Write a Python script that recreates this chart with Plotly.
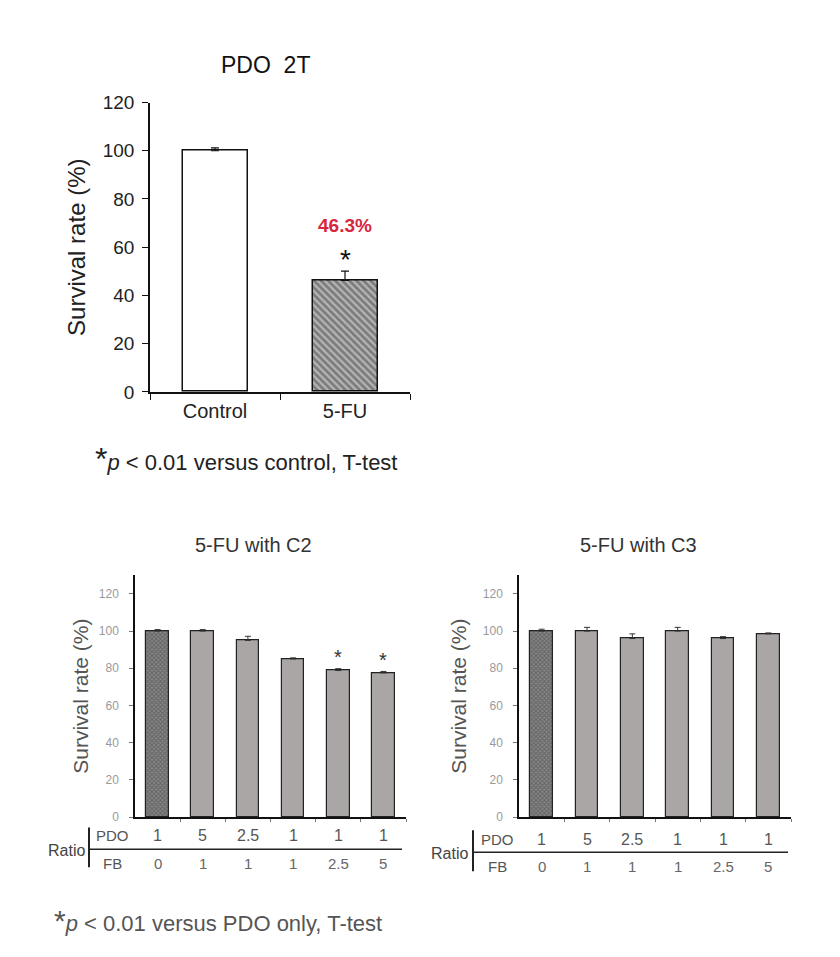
import plotly.graph_objects as go

# ---------------- data ----------------
top_categories = ["Control", "5-FU"]
top_values = [100, 46.3]
top_errors = [1.2, 3.8]
top_label = "46.3%"

c2_values = [100, 100, 95, 85, 78.8, 77.5]
c2_errors = [0.8, 0.8, 2.2, 0.6, 1.0, 0.8]
c2_signif = [False, False, False, False, True, True]

c3_values = [100, 100, 96, 100, 96, 98.5]
c3_errors = [1.0, 2.0, 2.5, 2.0, 1.0, 0.5]

pdo_ratio = ["1", "5", "2.5", "1", "1", "1"]
fb_ratio = ["0", "1", "1", "1", "2.5", "5"]

W, H = 840, 957
FONT = "Liberation Sans, Arial, sans-serif"
GREY_BAR = "#aaa6a6"


def px(x):
    return x / W


def py(y):
    # compensate the slight vertical compression observed in the photographed page
    y2 = (y - 9.0) / 0.98
    return 1 - y2 / H


fig = go.Figure()

# ---------------- top chart ----------------
fig.add_trace(go.Bar(
    x=top_categories, y=top_values, width=0.5,
    marker=dict(color=["#ffffff", "#b5b5b5"],
                line=dict(color="#111", width=1.5),
                pattern=dict(shape=["", "\\"], fgcolor="#111", size=5, solidity=0.55)),
    error_y=dict(type="data", array=top_errors, arrayminus=[0, 0], symmetric=False,
                 color="#111", thickness=1.2, width=4),
    xaxis="x", yaxis="y", showlegend=False,
))

idx = list(range(len(c2_values)))
pattern_shapes = ["x"] + [""] * (len(c2_values) - 1)
bar_colors = ["#8a8a8a"] + [GREY_BAR] * (len(c2_values) - 1)

for vals, errs, xa, ya in [(c2_values, c2_errors, "x2", "y2"), (c3_values, c3_errors, "x3", "y3")]:
    fig.add_trace(go.Bar(
        x=idx, y=vals, width=0.5,
        marker=dict(color=bar_colors, line=dict(color="#222", width=1.2),
                    pattern=dict(shape=pattern_shapes, fgcolor="#111", size=3, solidity=0.6)),
        error_y=dict(type="data", array=errs, arrayminus=[0] * len(errs), symmetric=False,
                     color="#333", thickness=1, width=3),
        xaxis=xa, yaxis=ya, showlegend=False,
    ))

axis_common = dict(showline=True, linecolor="#111", mirror=False, showgrid=False, zeroline=False)

fig.update_layout(
    width=W, height=H, margin=dict(l=0, r=0, t=0, b=0),
    paper_bgcolor="white", plot_bgcolor="white",
    font=dict(family=FONT, color="#222"),
    bargap=0,
    xaxis=dict(domain=[px(150), px(410)], type="category", range=[-0.5, 1.5],
               tickson="boundaries", ticks="outside", ticklen=6, tickcolor="#111",
               tickfont=dict(size=20, color="#222"), linewidth=1.5, anchor="y", **axis_common),
    yaxis=dict(domain=[py(391.7), py(101.7)], range=[0, 120], dtick=20, ticks="outside",
               ticklen=6, tickcolor="#111", tickfont=dict(size=19, color="#222"), linewidth=1.5,
               ticklabelstandoff=4,
               title=dict(text="Survival rate (%)", font=dict(size=24, color="#222"), standoff=10),
               anchor="x", **axis_common),
    xaxis2=dict(domain=[px(135), px(406)], range=[-0.5, 5.5], tickvals=[0.5, 1.5, 2.5, 3.5, 4.5, 5.5],
                ticks="outside", ticklen=3, tickcolor="#777", showticklabels=False,
                linewidth=1.5, anchor="y2", **axis_common),
    yaxis2=dict(domain=[py(817.7), py(575.4)], range=[0, 130], tickvals=[0, 20, 40, 60, 80, 100, 120],
                ticks="outside", ticklen=4, tickcolor="#777", tickfont=dict(size=12, color="#999"),
                linewidth=1.5, ticklabelstandoff=8,
                title=dict(text="Survival rate (%)", font=dict(size=21, color="#555"), standoff=4),
                anchor="x2", **axis_common),
    xaxis3=dict(domain=[px(519), px(791)], range=[-0.5, 5.5], tickvals=[0.5, 1.5, 2.5, 3.5, 4.5, 5.5],
                ticks="outside", ticklen=3, tickcolor="#777", showticklabels=False,
                linewidth=1.5, anchor="y3", **axis_common),
    yaxis3=dict(domain=[py(817.7), py(575.4)], range=[0, 130], tickvals=[0, 20, 40, 60, 80, 100, 120],
                ticks="outside", ticklen=4, tickcolor="#777", tickfont=dict(size=12, color="#999"),
                linewidth=1.5, ticklabelstandoff=8,
                title=dict(text="Survival rate (%)", font=dict(size=21, color="#555"), standoff=10),
                anchor="x3", **axis_common),
)

ann = []


def paper_text(text, x, y, size, color, xanchor="center"):
    return dict(text=text, x=px(x), y=py(y), xref="paper", yref="paper", xanchor=xanchor,
                yanchor="middle", showarrow=False, font=dict(size=size, color=color))


# titles
ann.append(paper_text("PDO\u00a0 2T", 265, 64, 23, "#111"))
ann.append(paper_text("5-FU with C2", 253, 545, 20, "#333"))
ann.append(paper_text("5-FU with C3", 638, 545, 20, "#333"))

# top annotations
ann.append(dict(text="<b>" + top_label + "</b>", x=top_categories[1], y=69, xref="x", yref="y",
                yanchor="middle", showarrow=False, font=dict(size=19, color="#d7263d")))
ann.append(dict(text="*", x=top_categories[1], y=55, xref="x", yref="y",
                yanchor="middle", showarrow=False, font=dict(size=28, color="#111")))
ann.append(paper_text("<span style='font-size:32px'>*</span><i>p</i> < 0.01 versus control, T-test",
                      93, 459, 22, "#222", xanchor="left"))

# C2 stars
for i, s in enumerate(c2_signif):
    if s:
        ann.append(dict(text="*", x=i, y=c2_values[i] + 7, xref="x2", yref="y2", yanchor="middle",
                        showarrow=False, font=dict(size=20, color="#333")))

# ratio tables
shapes = []
for xa, vline_x, pdo_x, ratio_x, y_pdo, y_line, y_fb, y_top, y_bot, line_end in [
    ("x2", 89, 112, 66, 836, 850, 864, 828, 868, 402),
    ("x3", 473, 497, 449, 840, 853, 867, 831, 872, 788),
]:
    ann.append(paper_text("Ratio", ratio_x, (y_pdo + y_fb) / 2 + 1, 16, "#444"))
    ann.append(paper_text("PDO", pdo_x, y_pdo, 15, "#555"))
    ann.append(paper_text("FB", pdo_x, y_fb, 15, "#555"))
    for i in range(len(pdo_ratio)):
        ann.append(dict(text=pdo_ratio[i], x=i, y=py(y_pdo), xref=xa, yref="paper", yanchor="middle",
                        showarrow=False, font=dict(size=16, color="#555")))
        ann.append(dict(text=fb_ratio[i], x=i, y=py(y_fb), xref=xa, yref="paper", yanchor="middle",
                        showarrow=False, font=dict(size=15, color="#666")))
    shapes.append(dict(type="line", xref="paper", yref="paper", x0=px(vline_x), x1=px(vline_x),
                       y0=py(y_top), y1=py(y_bot), line=dict(color="#222", width=2)))
    shapes.append(dict(type="line", xref="paper", yref="paper", x0=px(vline_x), x1=px(line_end),
                       y0=py(y_line), y1=py(y_line), line=dict(color="#222", width=1.5)))

ann.append(paper_text("<span style='font-size:30px'>*</span><i>p</i> < 0.01 versus PDO only, T-test",
                      52, 921, 22, "#555", xanchor="left"))

fig.update_layout(annotations=ann, shapes=shapes)
fig.write_html("out.html")
